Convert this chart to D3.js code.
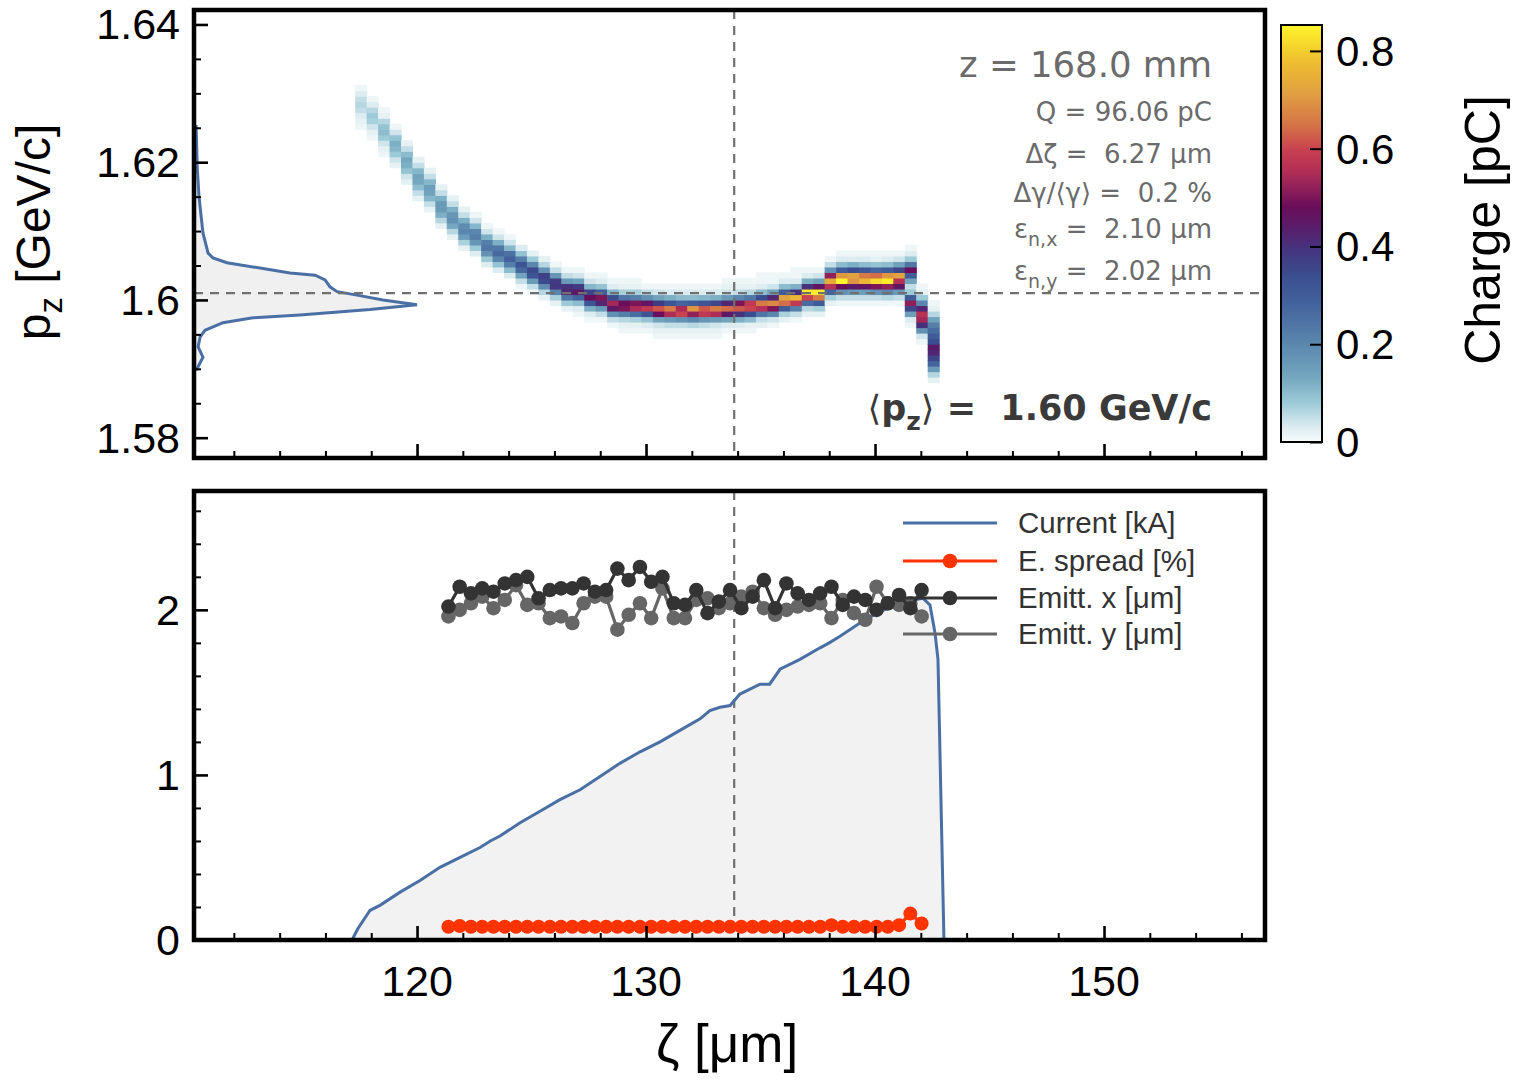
<!DOCTYPE html>
<html><head><meta charset="utf-8">
<script src="https://cdn.jsdelivr.net/npm/d3@7"></script>
<style>
body{margin:0;background:#fff;}
svg{display:block;}
text{font-family:"Liberation Sans",Arial,sans-serif;}
.pre{white-space:pre;}
svg text.dv{font-family:"DejaVu Sans",sans-serif;}
</style>
</head><body>
<svg id="c" width="1517" height="1085"></svg>
<script>
// ---------------- DATA ----------------
const xMajor = [120,130,140,150];
const xMinor = [112,114,116,118,122,124,126,128,132,134,136,138,142,144,146,148,152,154,156];
const yTopMajor = [1.58,1.60,1.62,1.64];
const yTopLabels = ["1.58","1.6","1.62","1.64"];
const yTopMinor = [1.585,1.59,1.595,1.605,1.61,1.615,1.625,1.63,1.635];
const yBotMajor = [0,1,2];
const yBotLabels = ["0","1","2"];
const yBotMinor = [0.2,0.4,0.6,0.8,1.2,1.4,1.6,1.8,2.2,2.4,2.6];
const cbTicks = [0,0.2,0.4,0.6,0.8];
const cbLabels = ["0","0.2","0.4","0.6","0.8"];

// colormap (charge pC -> colour)
const cmapVals   = [0, 0.031, 0.080, 0.133, 0.203, 0.284, 0.338, 0.393, 0.440, 0.481, 0.530, 0.556, 0.597, 0.644, 0.714, 0.782, 0.853];
const cmapColors = ["#f7fbfc","#dcebf0","#9ccad7","#73a6bf","#5a86ad","#43629c","#3a4f90","#45357f","#5a1c6a","#6a0d5a","#9a2558","#b52e55","#c84050","#d47048","#e0a040","#f0c030","#fdf52a"];

// phase-space histogram: zeta bins, pz bins, per-column starting row and charges (pC)
const heatZeta0 = 117.3, heatDz = 0.5, heatP0 = 1.588, heatDp = 0.0008;
const heatRowStart = [46,44,41,39,36,33,31,28,26,24,23,21,20,19,17,16,15,14,13,12,11,11,10,9,9,9,8,8,8,8,8,8,9,9,9,10,10,11,11,12,12,14,14,14,14,14,14,14,10,7,0];
const heatQ = [
 [0.01,0.02,0.03,0.05,0.06,0.05,0.03,0.01],
 [0.01,0.02,0.04,0.07,0.08,0.06,0.03,0.01],
 [0.01,0.02,0.04,0.08,0.10,0.09,0.06,0.02,0.01],
 [0.02,0.04,0.08,0.11,0.12,0.09,0.04,0.01],
 [0.02,0.04,0.09,0.12,0.13,0.10,0.05,0.02],
 [0.02,0.05,0.10,0.13,0.14,0.11,0.05,0.02],
 [0.02,0.05,0.11,0.14,0.15,0.11,0.05,0.02],
 [0.02,0.06,0.12,0.16,0.16,0.12,0.05,0.02],
 [0.02,0.06,0.13,0.18,0.17,0.12,0.05,0.02],
 [0.02,0.07,0.15,0.20,0.19,0.12,0.05,0.02],
 [0.03,0.08,0.17,0.22,0.20,0.11,0.04,0.01],
 [0.03,0.08,0.18,0.24,0.22,0.12,0.04,0.01],
 [0.03,0.09,0.20,0.27,0.24,0.12,0.04,0.01],
 [0.03,0.10,0.22,0.29,0.25,0.11,0.04,0.01],
 [0.01,0.05,0.14,0.27,0.32,0.22,0.09,0.03],
 [0.01,0.05,0.16,0.32,0.35,0.20,0.08,0.02],
 [0.02,0.06,0.19,0.35,0.37,0.18,0.06,0.02],
 [0.02,0.07,0.21,0.39,0.38,0.17,0.05,0.01],
 [0.02,0.08,0.24,0.42,0.40,0.16,0.05,0.01],
 [0.01,0.03,0.10,0.28,0.45,0.38,0.14,0.04,0.01],
 [0.01,0.03,0.12,0.32,0.48,0.36,0.11,0.04,0.01],
 [0.01,0.05,0.16,0.42,0.50,0.30,0.09,0.03,0.01],
 [0.01,0.05,0.18,0.45,0.54,0.34,0.11,0.03,0.01],
 [0.01,0.02,0.06,0.22,0.50,0.48,0.24,0.07,0.02,0.01],
 [0.01,0.02,0.07,0.26,0.55,0.50,0.22,0.07,0.02,0.01],
 [0.01,0.03,0.09,0.32,0.58,0.46,0.18,0.05,0.01],
 [0.01,0.02,0.04,0.14,0.48,0.62,0.38,0.14,0.04,0.01],
 [0.01,0.02,0.05,0.16,0.55,0.66,0.32,0.12,0.03,0.01],
 [0.01,0.02,0.05,0.18,0.60,0.55,0.28,0.10,0.03,0.01],
 [0.01,0.02,0.06,0.20,0.52,0.70,0.30,0.10,0.03,0.01],
 [0.01,0.02,0.05,0.17,0.58,0.62,0.32,0.11,0.03,0.01],
 [0.01,0.02,0.04,0.16,0.55,0.66,0.36,0.12,0.03,0.01],
 [0.01,0.03,0.14,0.45,0.64,0.42,0.16,0.04,0.02,0.01],
 [0.01,0.03,0.12,0.40,0.62,0.50,0.20,0.05,0.02,0.01],
 [0.01,0.02,0.10,0.34,0.60,0.58,0.24,0.06,0.02,0.01],
 [0.02,0.05,0.24,0.56,0.66,0.34,0.10,0.03,0.01,0.01],
 [0.01,0.04,0.20,0.50,0.68,0.42,0.14,0.04,0.01,0.01],
 [0.02,0.07,0.30,0.64,0.72,0.30,0.10,0.03,0.01],
 [0.01,0.05,0.22,0.58,0.76,0.40,0.12,0.03,0.01,0.01],
 [0.02,0.06,0.26,0.60,0.84,0.40,0.12,0.03,0.01],
 [0.02,0.07,0.30,0.66,0.84,0.46,0.14,0.04,0.01],
 [0.02,0.07,0.28,0.56,0.74,0.52,0.18,0.05,0.01],
 [0.01,0.05,0.18,0.48,0.85,0.70,0.30,0.10,0.03,0.01],
 [0.01,0.05,0.16,0.44,0.70,0.72,0.34,0.12,0.03,0.01],
 [0.01,0.05,0.15,0.46,0.76,0.66,0.32,0.10,0.03,0.01],
 [0.01,0.05,0.18,0.50,0.82,0.64,0.28,0.09,0.02,0.01],
 [0.01,0.06,0.20,0.52,0.84,0.70,0.30,0.10,0.03,0.01],
 [0.01,0.05,0.16,0.46,0.56,0.72,0.36,0.14,0.04,0.01],
 [0.01,0.03,0.15,0.36,0.52,0.30,0.08,0.05,0.14,0.30,0.48,0.24,0.08,0.03,0.01],
 [0.01,0.04,0.18,0.40,0.54,0.56,0.42,0.20,0.08,0.02,0.01],
 [0.02,0.06,0.16,0.28,0.36,0.42,0.44,0.34,0.30,0.26,0.22,0.14,0.06,0.02,0.01]
];

// pz projection (normalised)
const profPz  = [1.6254,1.6193,1.6150,1.6097,1.6068,1.6061,1.6054,1.6047,1.6039,1.6036,1.6029,1.6019,1.6012,1.6007,1.6000,1.5993,1.5986,1.5978,1.5974,1.5967,1.5956,1.5946,1.5932,1.5917,1.5903,1.5898];
const profAmp = [0.005,0.010,0.018,0.036,0.059,0.081,0.144,0.279,0.428,0.541,0.586,0.608,0.640,0.730,0.847,1.0,0.788,0.473,0.261,0.126,0.045,0.023,0.014,0.036,0.014,0.005];

// current profile
const curZeta = [117.16,117.42,117.95,118.38,119.26,120.13,121.0,121.88,122.75,123.2,123.62,124.5,125.37,126.24,127.12,127.99,128.86,129.74,130.61,131.48,132.36,132.79,133.23,133.67,134.1,134.98,135.4,135.85,136.72,137.6,138.0,138.47,139.34,140.22,141.09,141.66,142.1,142.4,142.62,142.75,142.88,143.01];
const curKA   = [0,0.07,0.18,0.21,0.29,0.36,0.44,0.50,0.56,0.60,0.63,0.71,0.78,0.85,0.91,0.99,1.07,1.14,1.20,1.27,1.34,1.39,1.41,1.42,1.49,1.55,1.55,1.64,1.70,1.77,1.80,1.84,1.92,1.99,2.04,2.06,2.07,2.03,1.86,1.70,0.85,0];

// slice quantities
const sliceZeta0 = 121.37, sliceDz = 0.492;
const emitX = [2.02,2.14,2.10,2.13,2.11,2.16,2.18,2.20,2.07,2.12,2.13,2.13,2.16,2.11,2.12,2.25,2.18,2.26,2.17,2.20,2.04,2.03,2.12,1.98,2.05,2.12,2.01,2.08,2.18,2.01,2.16,2.10,2.06,2.10,2.14,2.03,2.08,2.06,2.00,2.04,2.09,2.01,2.12];
const emitY = [1.96,2.00,2.04,2.08,2.01,2.06,2.15,2.03,2.04,1.95,1.96,1.92,2.04,2.08,2.08,1.88,1.97,2.04,1.95,2.13,1.95,1.95,2.06,2.07,2.01,2.04,2.08,2.11,2.01,1.97,2.00,2.02,2.03,2.04,1.95,2.06,1.98,1.94,2.14,2.04,2.03,2.04,1.96];
const eSpread = [0.08,0.085,0.08,0.08,0.08,0.08,0.08,0.08,0.08,0.08,0.08,0.08,0.08,0.08,0.08,0.08,0.08,0.08,0.08,0.08,0.08,0.08,0.08,0.08,0.08,0.08,0.08,0.08,0.08,0.08,0.08,0.08,0.08,0.08,0.09,0.08,0.08,0.08,0.08,0.08,0.09,0.16,0.10];

const zetaCut = 133.85, pzMean = 1.601;
const legendNames = ["Current [kA]","E. spread [%]","Emitt. x [\u03BCm]","Emitt. y [\u03BCm]"];

// ---------------- DRAW ----------------
const svg = d3.select("#c");
const X0=194, X1=1265, TY0=10, TY1=458, BY0=491, BY1=940;
const x  = d3.scaleLinear().domain([110.26,157.03]).range([X0,X1]);
const yT = d3.scaleLinear().domain([1.57705,1.6421]).range([TY1,TY0]);
const yB = d3.scaleLinear().domain([0,2.72]).range([BY1,BY0]);
const cScale = d3.scaleLinear().domain(cmapVals).range(cmapColors).clamp(true);
const profX = d3.scaleLinear().domain([0,1]).range([X0+1,417]);
const sliceZ = emitX.map((_,k)=>sliceZeta0+k*sliceDz);

const defs = svg.append("defs");
defs.append("clipPath").attr("id","clipT").append("rect").attr("x",X0).attr("y",TY0).attr("width",X1-X0).attr("height",TY1-TY0);
defs.append("clipPath").attr("id","clipB").append("rect").attr("x",X0).attr("y",BY0).attr("width",X1-X0).attr("height",BY1-BY0);

// ---- top panel ----
const gT = svg.append("g").attr("clip-path","url(#clipT)");
const cells = [];
heatQ.forEach((col,i)=>col.forEach((q,k)=>cells.push({z:heatZeta0+i*heatDz, p:heatP0+(heatRowStart[i]+k)*heatDp, q})));
gT.selectAll("rect.cell").data(cells).join("rect").attr("class","cell")
  .attr("x",d=>x(d.z)).attr("width",d=>x(d.z+heatDz)-x(d.z)+0.6)
  .attr("y",d=>yT(d.p+heatDp)).attr("height",d=>yT(d.p)-yT(d.p+heatDp)+0.6)
  .attr("fill",d=>cScale(d.q));

const prof = profPz.map((p,i)=>({p,a:profAmp[i]}));
gT.append("path").datum(prof)
  .attr("d",d3.area().y(d=>yT(d.p)).x0(X0).x1(d=>profX(d.a)))
  .attr("fill","#f0f0f0").attr("stroke","none");
gT.append("path").datum(prof)
  .attr("d",d3.line().y(d=>yT(d.p)).x(d=>profX(d.a)))
  .attr("fill","none").attr("stroke","#4a6fa5").attr("stroke-width",3);

gT.append("line").attr("x1",X0).attr("x2",X1).attr("y1",yT(pzMean)).attr("y2",yT(pzMean))
  .attr("stroke","#707070").attr("stroke-width",2.2).attr("stroke-dasharray","9,7");
gT.append("line").attr("x1",x(zetaCut)).attr("x2",x(zetaCut)).attr("y1",TY0).attr("y2",TY1)
  .attr("stroke","#707070").attr("stroke-width",2.2).attr("stroke-dasharray","9,7");

// annotations
const ann = svg.append("g").attr("fill","#6b6b6b").attr("text-anchor","end");
function annText(y,size){ return ann.append("text").attr("class","pre dv").attr("x",1212).attr("y",y).attr("font-size",size); }
annText(77,35.5).text("z = 168.0 mm");
annText(121,26).text("Q = 96.06 pC");
annText(163,26).text("\u0394\u03B6 =  6.27 \u03BCm");
annText(202,26).text("\u0394\u03B3/\u27E8\u03B3\u27E9 =  0.2 %");
{
  const t = annText(238,26);
  t.append("tspan").text("\u03B5");
  t.append("tspan").attr("dy",8).attr("font-size",19).text("n,x");
  t.append("tspan").attr("dy",-8).text(" =  2.10 \u03BCm");
  const t2 = annText(280,26);
  t2.append("tspan").text("\u03B5");
  t2.append("tspan").attr("dy",8).attr("font-size",19).text("n,y");
  t2.append("tspan").attr("dy",-8).text(" =  2.02 \u03BCm");
}
{
  const t = svg.append("text").attr("class","pre dv").attr("x",1212).attr("y",420).attr("text-anchor","end")
    .attr("font-size",35).attr("font-weight","bold").attr("fill","#3a3a3a");
  t.append("tspan").style("font-weight","normal").text("\u27E8");
  t.append("tspan").text("p");
  t.append("tspan").attr("dy",10).attr("font-size",25).text("z");
  t.append("tspan").attr("dy",-10).style("font-weight","normal").text("\u27E9");
  t.append("tspan").text(" =  1.60 GeV/c");
}

// ---- bottom panel ----
const gB = svg.append("g").attr("clip-path","url(#clipB)");
const cur = curZeta.map((z,i)=>({z,v:curKA[i]}));
gB.append("path").datum(cur).attr("d",d3.area().x(d=>x(d.z)).y0(yB(0)).y1(d=>yB(d.v)))
  .attr("fill","#f2f2f2");
gB.append("line").attr("x1",x(zetaCut)).attr("x2",x(zetaCut)).attr("y1",BY0).attr("y2",BY1)
  .attr("stroke","#707070").attr("stroke-width",2.2).attr("stroke-dasharray","9,7");
gB.append("path").datum(cur).attr("d",d3.line().x(d=>x(d.z)).y(d=>yB(d.v)))
  .attr("fill","none").attr("stroke","#4a6fa5").attr("stroke-width",3);

function series(vals,color,r){
  const pts = vals.map((v,k)=>({z:sliceZ[k],v}));
  gB.append("path").datum(pts).attr("d",d3.line().x(d=>x(d.z)).y(d=>yB(d.v)))
    .attr("fill","none").attr("stroke",color).attr("stroke-width",3.2);
  gB.selectAll(null).data(pts).join("circle").attr("cx",d=>x(d.z)).attr("cy",d=>yB(d.v)).attr("r",r).attr("fill",color);
}
series(eSpread,"#ff3300",7);
series(emitY,"#666666",7.3);
series(emitX,"#333333",7.3);

// legend
const legColors = ["#4a6fa5","#ff3300","#333333","#666666"];
const legY = [523,561,598,634];
const lg = svg.append("g");
legendNames.forEach((n,i)=>{
  lg.append("line").attr("x1",903).attr("x2",997).attr("y1",legY[i]).attr("y2",legY[i]).attr("stroke",legColors[i]).attr("stroke-width",3.2);
  if(i>0) lg.append("circle").attr("cx",950).attr("cy",legY[i]).attr("r",7.3).attr("fill",legColors[i]);
  lg.append("text").attr("x",1018).attr("y",legY[i]+10).attr("font-size",29.5).attr("fill","#333").text(n);
});

// ---- axes ticks ----
function tickGroup(axis, tx, ty){
  const g = svg.append("g").attr("transform",`translate(${tx},${ty})`).call(axis);
  g.select(".domain").remove(); g.selectAll("text").remove();
  g.selectAll("line").attr("stroke","#000");
  return g;
}
[TY1,BY1].forEach(yy=>{
  tickGroup(d3.axisBottom(x).tickValues(xMajor).tickSize(-14),0,yy).selectAll("line").attr("stroke-width",2.6);
  tickGroup(d3.axisBottom(x).tickValues(xMinor).tickSize(-7),0,yy).selectAll("line").attr("stroke-width",2);
});
tickGroup(d3.axisLeft(yT).tickValues(yTopMajor).tickSize(-14),X0,0).selectAll("line").attr("stroke-width",2.6);
tickGroup(d3.axisLeft(yT).tickValues(yTopMinor).tickSize(-7),X0,0).selectAll("line").attr("stroke-width",2);
tickGroup(d3.axisLeft(yB).tickValues(yBotMajor).tickSize(-14),X0,0).selectAll("line").attr("stroke-width",2.6);
tickGroup(d3.axisLeft(yB).tickValues(yBotMinor).tickSize(-7),X0,0).selectAll("line").attr("stroke-width",2);

// frames
svg.append("rect").attr("x",X0).attr("y",TY0).attr("width",X1-X0).attr("height",TY1-TY0).attr("fill","none").attr("stroke","#000").attr("stroke-width",4.5);
svg.append("rect").attr("x",X0).attr("y",BY0).attr("width",X1-X0).attr("height",BY1-BY0).attr("fill","none").attr("stroke","#000").attr("stroke-width",4.5);

// tick labels
const tl = svg.append("g").attr("fill","#000").attr("font-size",43);
xMajor.forEach(v=>tl.append("text").attr("x",x(v)).attr("y",996).attr("text-anchor","middle").text(v));
yTopMajor.forEach((v,i)=>tl.append("text").attr("x",180).attr("y",yT(v)+15).attr("text-anchor","end").text(yTopLabels[i]));
yBotMajor.forEach((v,i)=>tl.append("text").attr("x",180).attr("y",yB(v)+15).attr("text-anchor","end").text(yBotLabels[i]));

// axis titles
svg.append("text").attr("class","pre").attr("x",727).attr("y",1062).attr("text-anchor","middle").attr("font-size",53).text("\u03B6 [\u03BCm]");
{
  const t = svg.append("text").attr("transform","translate(50,232) rotate(-90)").attr("text-anchor","middle").attr("font-size",48);
  t.append("tspan").text("p");
  t.append("tspan").attr("dy",12).attr("font-size",33).text("z");
  t.append("tspan").attr("dy",-12).text(" [GeV/c]");
}

// ---- colorbar ----
const cbX = 1281, cbW = 41;
const cbY = d3.scaleLinear().domain([0,0.853]).range([442,25]);
const grad = defs.append("linearGradient").attr("id","cbg").attr("x1",0).attr("y1",1).attr("x2",0).attr("y2",0);
cmapVals.forEach((v,i)=>grad.append("stop").attr("offset",v/0.853).attr("stop-color",cmapColors[i]));
svg.append("rect").attr("x",cbX).attr("y",cbY(0.853)).attr("width",cbW).attr("height",cbY(0)-cbY(0.853)).attr("fill","url(#cbg)");
tickGroup(d3.axisRight(cbY).tickValues(cbTicks).tickSize(-12),cbX+cbW,0).selectAll("line").attr("stroke-width",2);
svg.append("rect").attr("x",cbX).attr("y",cbY(0.853)).attr("width",cbW).attr("height",cbY(0)-cbY(0.853)).attr("fill","none").attr("stroke","#000").attr("stroke-width",2);
cbTicks.forEach((v,i)=>svg.append("text").attr("x",1336).attr("y",cbY(v)+15).attr("font-size",42).text(cbLabels[i]));
svg.append("text").attr("transform","translate(1500,230) rotate(-90)").attr("text-anchor","middle").attr("font-size",50).text("Charge [pC]");
</script>
</body></html>
